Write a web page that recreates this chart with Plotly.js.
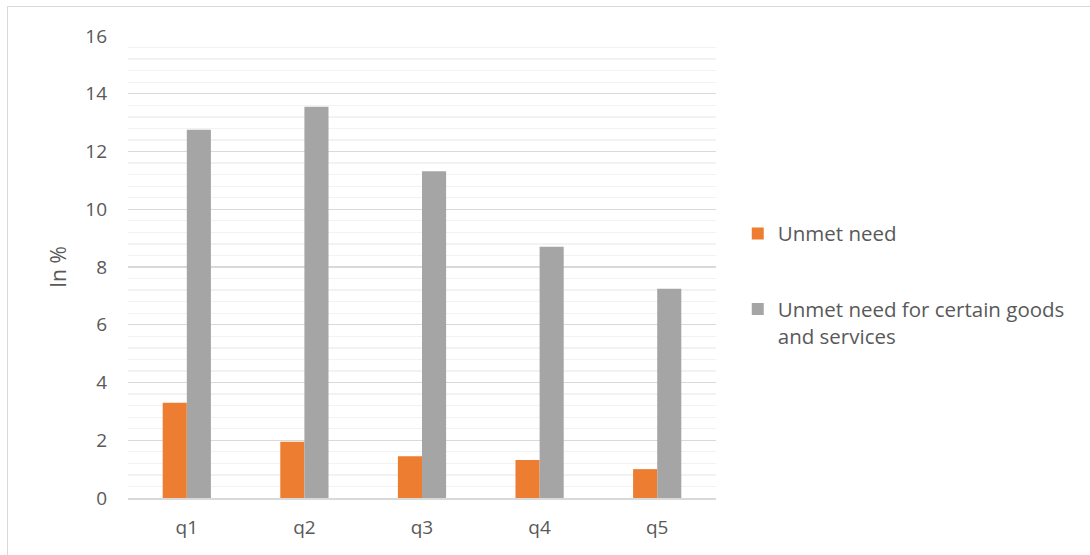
<!DOCTYPE html>
<html>
<head>
<meta charset="utf-8">
<script src="https://cdn.plot.ly/plotly-3.0.1.min.js"></script>
<style>
  html, body { margin: 0; padding: 0; background: #ffffff; }
  #wrap { position: relative; width: 1090px; height: 555px; overflow: hidden; }
  #chart { position: absolute; left: 0; top: 0; width: 1090px; height: 555px; }
  #frame { position: absolute; left: 7px; top: 6px; width: 1200px; height: 700px;
           border-left: 1.5px solid #d9d9d9; border-top: 1.5px solid #d9d9d9; pointer-events: none; }
</style>
</head>
<body>
<div id="wrap">
  <div id="chart"></div>
  <div id="frame"></div>
</div>
<script>
// Income quintiles
const quintiles = ['q1', 'q2', 'q3', 'q4', 'q5'];
// Share of people reporting unmet need, in %
const unmetNeed = [3.3, 1.95, 1.45, 1.32, 1.0];
// Share reporting unmet need for certain goods and services, in %
const unmetGoodsServices = [12.75, 13.55, 11.32, 8.7, 7.25];

const yTicks = [0, 2, 4, 6, 8, 10, 12, 14, 16];

const textColor = '#595959';
const fontFamily = '"Open Sans", Lato, sans-serif';

const traces = [
  {
    type: 'bar',
    name: 'Unmet need',
    x: quintiles,
    y: unmetNeed,
    marker: { color: '#ED7D31' },
    legendgroup: 'a',
    hoverinfo: 'x+y'
  },
  {
    type: 'bar',
    name: 'Unmet need for certain goods<br>and services',
    x: quintiles,
    y: unmetGoodsServices,
    marker: { color: '#A5A5A5' },
    legendgroup: 'b',
    hoverinfo: 'x+y'
  }
];

const layout = {
  width: 1090,
  height: 555,
  paper_bgcolor: '#ffffff',
  plot_bgcolor: '#ffffff',
  margin: { l: 128, r: 374, t: 36, b: 57 },
  barmode: 'group',
  bargap: 0.59,
  bargroupgap: 0,
  font: { family: fontFamily, color: textColor, size: 19 },
  showlegend: true,
  legend: {
    x: 1.037,
    y: 0.462,
    xanchor: 'left',
    yanchor: 'middle',
    valign: 'top',
    traceorder: 'grouped',
    tracegroupgap: 46,
    font: { family: fontFamily, color: textColor, size: 20.5 },
    bgcolor: 'rgba(0,0,0,0)'
  },
  xaxis: {
    showgrid: false,
    showline: true,
    linecolor: '#d9d9d9',
    linewidth: 1.5,
    ticks: '',
    ticklabelstandoff: 12,
    tickfont: { family: fontFamily, color: textColor, size: 19 },
    fixedrange: true
  },
  yaxis: {
    range: [0, 16],
    tickvals: yTicks,
    ticktext: yTicks.map(String),
    showgrid: true,
    gridcolor: '#d9d9d9',
    gridwidth: 1.3,
    zeroline: false,
    showline: false,
    ticks: '',
    ticklabelstandoff: 20,
    tickfont: { family: fontFamily, color: textColor, size: 19 },
    minor: { dtick: 0.4, tick0: 0, showgrid: true, gridcolor: '#f2f2f2', gridwidth: 1.3, ticks: '' },
    title: { text: 'In %', standoff: 12, font: { family: fontFamily, color: textColor, size: 21 } },
    fixedrange: true
  }
};

Plotly.newPlot('chart', traces, layout, { displayModeBar: false, staticPlot: true });
</script>
</body>
</html>
